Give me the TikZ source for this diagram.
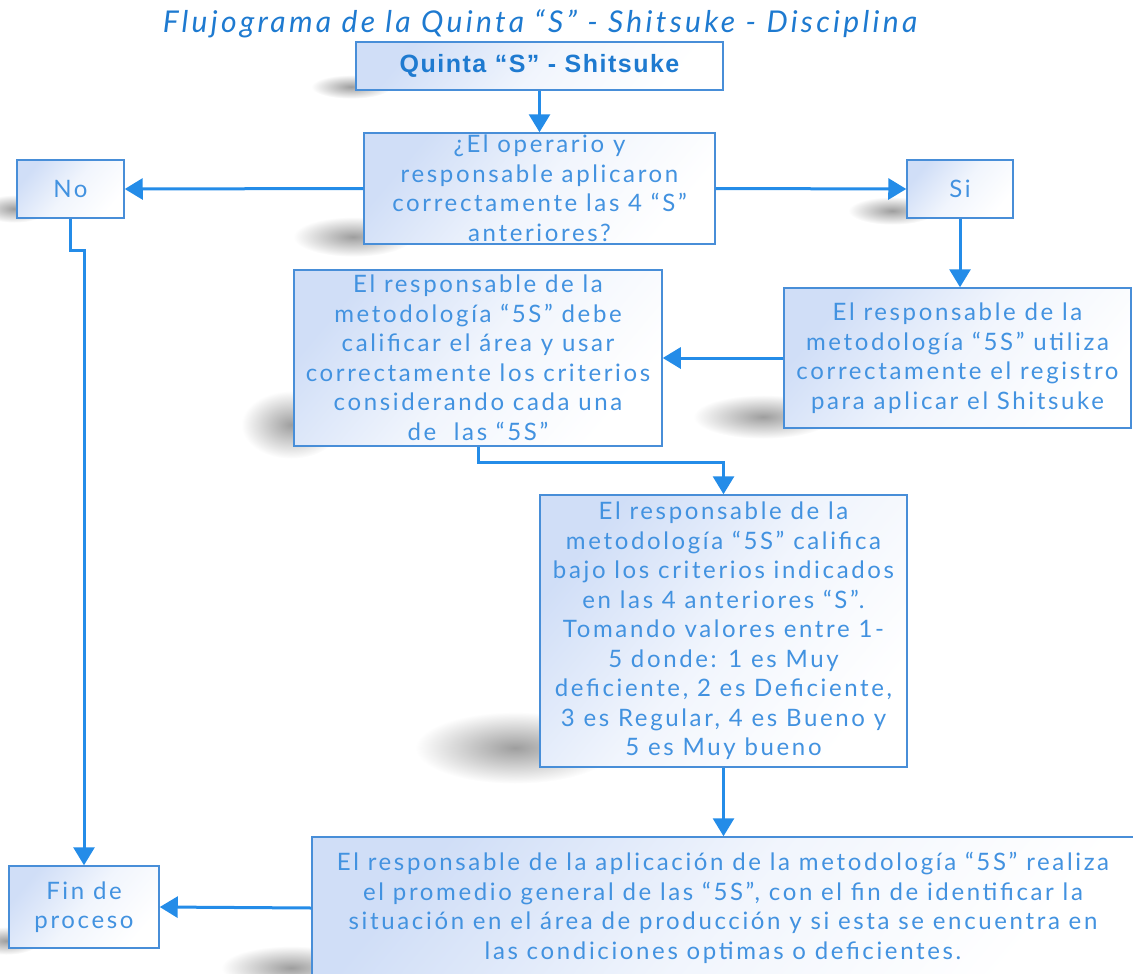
\documentclass[tikz,border=0pt]{standalone}
\usepackage{fontspec}
\setmainfont{Lato}
\newfontfamily\headsans{Liberation Sans}
\usetikzlibrary{arrows.meta,backgrounds,calc}

\definecolor{linkblue}{RGB}{36,140,232}
\definecolor{edgeblue}{RGB}{72,142,216}
\definecolor{textblue}{RGB}{66,146,224}
\definecolor{titleblue}{RGB}{30,122,208}
\definecolor{fillblue}{RGB}{208,222,247}

\tikzset{
  stepbox/.style={draw=edgeblue, line width=1.5pt,
    top color=fillblue, bottom color=white, middle color=fillblue!30,
    shading angle=50, align=center, text=textblue, inner sep=0pt,
    font=\fontsize{24}{29.5}\selectfont\addfontfeatures{LetterSpace=11}},
  arr/.style={draw=linkblue, line width=3pt,
    -{Triangle[length=18pt,width=21pt]}},
}

% soft cast shadow at the lower-left corner of a box
\newcommand\castshadow[5]{%
  \shade[inner color=black!38, outer color=white]
    ($(#1.south west)+(#2,#3)$) ellipse [x radius=#4, y radius=#5];}

\begin{document}
\begin{tikzpicture}[x=1pt,y=-1pt]
\useasboundingbox (0,0) rectangle (1133,974);

% title
\node[text=titleblue, font=\fontsize{30}{34}\selectfont\itshape\addfontfeatures{LetterSpace=11}]
  (title) at (540,24) {Flujograma de la Quinta “S” - Shitsuke - Disciplina};

% boxes
\node[stepbox, minimum width=367pt, minimum height=48pt,
  font=\headsans\bfseries\fontsize{25}{28}\selectfont\addfontfeatures{LetterSpace=6},
  text=titleblue] (q) at (539.5,66) {Quinta “S” - Shitsuke};

\node[stepbox, minimum width=351pt, minimum height=111pt] (d) at (539.5,188.5)
  {¿El operario y\\responsable aplicaron\\correctamente las 4 “S”\\anteriores?};

\node[stepbox, minimum width=107pt, minimum height=58pt] (no) at (70.5,189) {No};
\node[stepbox, minimum width=106pt, minimum height=58pt] (si) at (960,189) {Si};

\node[stepbox, minimum width=368pt, minimum height=176pt] (l) at (478,358)
  {El responsable de la\\metodología “5S” debe\\calificar el área y usar\\correctamente los criterios\\considerando cada una\\de\ \ las “5S”};

\node[stepbox, minimum width=347pt, minimum height=140pt] (r) at (957.5,358)
  {El responsable de la\\metodología “5S” utiliza\\correctamente el registro\\para aplicar el Shitsuke};

\node[stepbox, minimum width=367pt, minimum height=272pt] (c) at (723.5,631)
  {El responsable de la\\metodología “5S” califica\\bajo los criterios indicados\\en las 4 anteriores “S”.\\Tomando valores entre 1-\\5 donde: 1 es Muy\\deficiente, 2 es Deficiente,\\3 es Regular, 4 es Bueno y\\5 es Muy bueno};

\node[stepbox, minimum width=822pt, minimum height=142pt] (p) at (723,908)
  {El responsable de la aplicación de la metodología “5S” realiza\\el promedio general de las “5S”, con el fin de identificar la\\situación en el área de producción y si esta se encuentra en\\las condiciones optimas o deficientes.};

\node[stepbox, minimum width=150pt, minimum height=82pt] (fin) at (84,907)
  {Fin de\\proceso};

% shadows behind the boxes
\begin{scope}[on background layer]
  \castshadow{q}{-4}{-4}{40}{12}
  \castshadow{d}{-10}{-8}{60}{20}
  \castshadow{no}{-2}{-10}{34}{14}
  \castshadow{si}{-14}{-8}{44}{14}
  \castshadow{l}{-2}{-22}{50}{34}
  \castshadow{r}{-20}{-12}{70}{22}
  \castshadow{c}{-24}{-20}{100}{36}
  \castshadow{fin}{-2}{-8}{34}{14}
  \castshadow{p}{-20}{-12}{70}{22}
\end{scope}

% connectors
\draw[arr] (q.south) -- (d.north);
\draw[arr] (d.west) -- (no.east);
\draw[arr] (d.east) -- (si.west);
\draw[arr] (si.south) -- (si.south |- r.north);
\draw[arr] (r.west) -- (l.east);
\draw[arr] (l.south) -- ++(0,16) -| (c.north);
\draw[arr] (c.south) -- (c.south |- p.north);
\draw[arr] (p.west) -- (fin.east);
\draw[arr] (no.south) -- ++(0,32) -| (fin.north);
\end{tikzpicture}
\end{document}
